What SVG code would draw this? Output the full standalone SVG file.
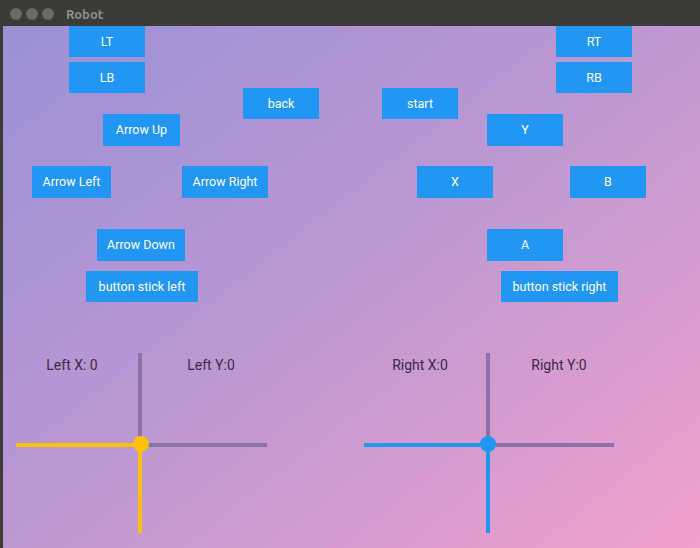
<svg xmlns="http://www.w3.org/2000/svg" width="700" height="548" viewBox="0 0 700 548">
<defs>
<linearGradient id="bg" x1="0" y1="0" x2="1" y2="1">
<stop offset="0" stop-color="#9a90d6"/><stop offset="0.5" stop-color="#bc98d2"/><stop offset="1" stop-color="#f2a0cc"/>
</linearGradient>
<style>
.b rect{fill:#2196f3}
.b text{fill:#fff;font-family:Roboto,sans-serif;font-size:12.5px;text-anchor:middle}
.l{fill:#3a2a48;font-family:Roboto,sans-serif;font-size:14px;text-anchor:middle}
.g{stroke:#8c72a6;stroke-width:4}
</style>
</defs>
<rect width="700" height="548" fill="url(#bg)"/>
<rect width="700" height="26" fill="#3c3b37"/>
<rect x="0" y="0" width="3" height="548" fill="#3c3b37"/>
<circle cx="16" cy="14" r="6" fill="#6a6964"/><circle cx="32" cy="14" r="6" fill="#6a6964"/><circle cx="48" cy="14" r="6" fill="#6a6964"/>
<text x="66" y="19" font-family="Ubuntu,'DejaVu Sans',sans-serif" font-size="13" font-weight="bold" fill="#8f8d87">Robot</text>
<g id="LT" class="b"><rect x="69" y="26" width="76" height="31"/><text x="107" y="46">LT</text></g>
<g id="LB" class="b"><rect x="69" y="62" width="76" height="31"/><text x="107" y="82">LB</text></g>
<g id="back" class="b"><rect x="243" y="88" width="76" height="31"/><text x="281" y="108">back</text></g>
<g id="start" class="b"><rect x="382" y="88" width="76" height="31"/><text x="420" y="108">start</text></g>
<g id="RT" class="b"><rect x="556" y="26" width="76" height="31"/><text x="594" y="46">RT</text></g>
<g id="RB" class="b"><rect x="556" y="62" width="76" height="31"/><text x="594" y="82">RB</text></g>
<g id="up" class="b"><rect x="103" y="114" width="77" height="32"/><text x="141.5" y="134">Arrow Up</text></g>
<g id="Y" class="b"><rect x="487" y="114" width="76" height="32"/><text x="525" y="134">Y</text></g>
<g id="left" class="b"><rect x="32" y="166" width="79" height="32"/><text x="71.5" y="186">Arrow Left</text></g>
<g id="right" class="b"><rect x="182" y="166" width="86" height="32"/><text x="225" y="186">Arrow Right</text></g>
<g id="X" class="b"><rect x="417" y="166" width="76" height="32"/><text x="455" y="186">X</text></g>
<g id="B" class="b"><rect x="570" y="166" width="76" height="32"/><text x="608" y="186">B</text></g>
<g id="down" class="b"><rect x="97" y="229" width="88" height="32"/><text x="141" y="249">Arrow Down</text></g>
<g id="A" class="b"><rect x="487" y="229" width="76" height="32"/><text x="525" y="249">A</text></g>
<g id="bsl" class="b"><rect x="86" y="271" width="112" height="31"/><text x="142" y="291">button stick left</text></g>
<g id="bsr" class="b"><rect x="501" y="271" width="117" height="31"/><text x="559.5" y="291">button stick right</text></g>
<g id="labels">
<text class="l" x="72" y="370">Left X: 0</text>
<text class="l" x="211" y="370">Left Y:0</text>
<text class="l" x="420" y="370">Right X:0</text>
<text class="l" x="559" y="370">Right Y:0</text>
</g>
<g id="joysticks">
<line class="g" x1="140" y1="353" x2="140" y2="445"/>
<line class="g" x1="140" y1="445" x2="267" y2="445"/>
<line x1="16" y1="445" x2="140" y2="445" stroke="#ffc107" stroke-width="4"/>
<line x1="140" y1="445" x2="140" y2="533" stroke="#ffc107" stroke-width="4"/>
<circle cx="141" cy="444" r="8" fill="#ffc107"/>
<line class="g" x1="488" y1="353" x2="488" y2="445"/>
<line class="g" x1="488" y1="445" x2="614" y2="445"/>
<line x1="364" y1="445" x2="488" y2="445" stroke="#2196f3" stroke-width="4"/>
<line x1="488" y1="445" x2="488" y2="533" stroke="#2196f3" stroke-width="4"/>
<circle cx="488" cy="444" r="8" fill="#2196f3"/>
</g>
</svg>
